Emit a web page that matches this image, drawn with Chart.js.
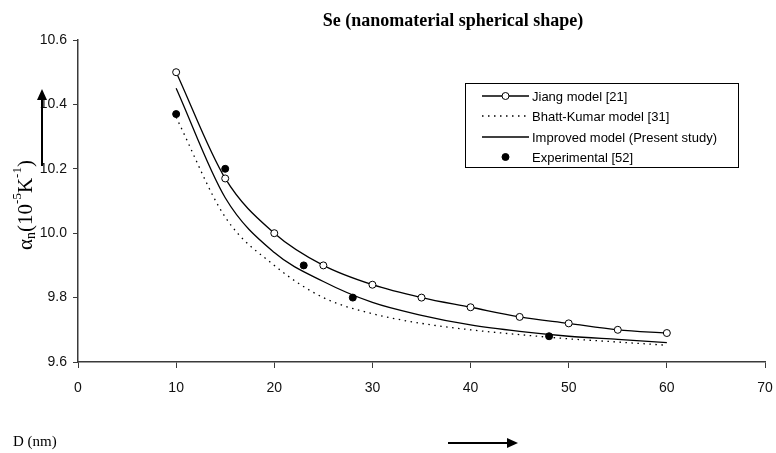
<!DOCTYPE html>
<html>
<head>
<meta charset="utf-8">
<script src="https://cdn.jsdelivr.net/npm/chart.js@4.4.1/dist/chart.umd.min.js"></script>
<style>
  html, body { margin: 0; padding: 0; background: #fff; }
  #wrap { width: 776px; height: 453px; }
</style>
</head>
<body>
<div id="wrap"><canvas id="seChart" width="776" height="453"></canvas></div>
<script>
// --------- Data ---------
const sizes = [10, 15, 20, 25, 30, 35, 40, 45, 50, 55, 60];
const jiang = [10.50, 10.17, 10.00, 9.90, 9.84, 9.80, 9.77, 9.74, 9.72, 9.70, 9.69];
const bhattKumar = [10.36, 10.05, 9.90, 9.80, 9.75, 9.72, 9.70, 9.685, 9.672, 9.662, 9.652];
const improved = [10.45, 10.11, 9.94, 9.85, 9.785, 9.745, 9.715, 9.695, 9.68, 9.67, 9.66];
const expSizes = [10, 15, 23, 28, 48];
const expValues = [10.37, 10.20, 9.90, 9.80, 9.68];
const xTicks = [0, 10, 20, 30, 40, 50, 60, 70];
const yTicks = [9.6, 9.8, 10.0, 10.2, 10.4, 10.6];

const titleText = 'Se (nanomaterial spherical shape)';
const xLabel = 'D (nm)';

(() => {
    const toPoints = (xs, ys) => xs.map((x, i) => ({ x: x, y: ys[i] }));
    const axisColor = '#3a3a3a';
    const tickFont = { family: '"Liberation Sans", Arial, sans-serif', size: 14 };

    // --------- annotations: title, axis labels, arrows, legend ---------
    const arrow = (ctx, x1, y1, x2, y2) => {
        const ang = Math.atan2(y2 - y1, x2 - x1);
        ctx.beginPath();
        ctx.moveTo(x1, y1);
        ctx.lineTo(x2 - 8 * Math.cos(ang), y2 - 8 * Math.sin(ang));
        ctx.lineWidth = 2;
        ctx.strokeStyle = '#000';
        ctx.stroke();
        ctx.save();
        ctx.translate(x2, y2);
        ctx.rotate(ang);
        ctx.beginPath();
        ctx.moveTo(0, 0);
        ctx.lineTo(-11, -5);
        ctx.lineTo(-11, 5);
        ctx.closePath();
        ctx.fillStyle = '#000';
        ctx.fill();
        ctx.restore();
    };

    const extras = {
        id: 'extras',
        afterDraw(chart) {
            const ctx = chart.ctx;
            ctx.save();
            ctx.fillStyle = '#000';

            // title
            ctx.font = 'bold 18px "Liberation Serif", "Times New Roman", serif';
            ctx.textAlign = 'center';
            ctx.textBaseline = 'middle';
            ctx.fillText(titleText, 453, 21);

            // y label (rotated, with sub/superscripts)
            const parts = [
                { t: '\u03b1', s: 21, dy: 0 },
                { t: 'n', s: 14, dy: 5 },
                { t: '(10', s: 21, dy: 0 },
                { t: '-5', s: 13, dy: -8 },
                { t: 'K', s: 21, dy: 0 },
                { t: '-1', s: 13, dy: -8 },
                { t: ')', s: 21, dy: 0 }
            ];
            const fontOf = s => s + 'px "Liberation Serif", "Times New Roman", serif';
            let total = 0;
            parts.forEach(p => { ctx.font = fontOf(p.s); p.w = ctx.measureText(p.t).width; total += p.w; });
            ctx.save();
            ctx.translate(26, 205);
            ctx.rotate(-Math.PI / 2);
            ctx.textAlign = 'left';
            ctx.textBaseline = 'middle';
            let px = -total / 2;
            parts.forEach(p => {
                ctx.font = fontOf(p.s);
                ctx.fillText(p.t, px, p.dy);
                px += p.w;
            });
            ctx.restore();

            // x label
            ctx.font = '15px "Liberation Serif", "Times New Roman", serif';
            ctx.textAlign = 'left';
            ctx.fillText(xLabel, 13, 442);

            // arrows
            arrow(ctx, 42, 166, 42, 89);
            arrow(ctx, 448, 443, 518, 443);

            // legend box
            const lx = 465, ly = 83, lw = 273, lh = 84;
            ctx.lineWidth = 1;
            ctx.strokeStyle = '#000';
            ctx.strokeRect(lx + 0.5, ly + 0.5, lw, lh);
            ctx.font = '13px "Liberation Sans", Arial, sans-serif';
            ctx.textBaseline = 'middle';
            const rows = [96, 116, 137, 157];
            chart.data.datasets.forEach((ds, i) => {
                const y = rows[i];
                if (ds.showLine !== false) {
                    ctx.beginPath();
                    ctx.setLineDash(ds.borderDash || []);
                    ctx.moveTo(482, y);
                    ctx.lineTo(529, y);
                    ctx.lineWidth = ds.borderWidth;
                    ctx.strokeStyle = ds.borderColor;
                    ctx.stroke();
                    ctx.setLineDash([]);
                }
                if (ds.pointRadius > 0) {
                    ctx.beginPath();
                    ctx.arc(505.5, y, ds.pointRadius, 0, Math.PI * 2);
                    ctx.fillStyle = ds.pointBackgroundColor;
                    ctx.fill();
                    ctx.lineWidth = 1;
                    ctx.strokeStyle = '#000';
                    ctx.stroke();
                }
                ctx.fillStyle = '#000';
                ctx.fillText(ds.label, 532, y + 1);
            });
            ctx.restore();
        }
    };

    new Chart(document.getElementById('seChart'), {
        type: 'line',
        data: {
            datasets: [{
                label: 'Jiang model [21]',
                data: toPoints(sizes, jiang),
                borderColor: '#000',
                borderWidth: 1.3,
                pointRadius: 3.5,
                pointBackgroundColor: '#fff',
                pointBorderColor: '#000',
                pointBorderWidth: 1,
                cubicInterpolationMode: 'monotone'
            }, {
                label: 'Bhatt-Kumar model [31]',
                data: toPoints(sizes, bhattKumar),
                borderColor: '#000',
                borderWidth: 1.3,
                borderDash: [1.5, 4.5],
                pointRadius: 0,
                cubicInterpolationMode: 'monotone'
            }, {
                label: 'Improved model (Present study)',
                data: toPoints(sizes, improved),
                borderColor: '#000',
                borderWidth: 1.3,
                pointRadius: 0,
                cubicInterpolationMode: 'monotone'
            }, {
                label: 'Experimental [52]',
                data: toPoints(expSizes, expValues),
                showLine: false,
                borderColor: '#000',
                borderWidth: 1,
                pointRadius: 3.5,
                pointBackgroundColor: '#000',
                pointBorderColor: '#000'
            }]
        },
        options: {
            responsive: false,
            animation: false,
            events: [],
            layout: { padding: { top: 40, right: 11, bottom: 0, left: 0 } },
            plugins: { legend: { display: false }, tooltip: { enabled: false } },
            scales: {
                x: {
                    type: 'linear',
                    min: xTicks[0],
                    max: xTicks[xTicks.length - 1],
                    afterBuildTicks: s => { s.ticks = xTicks.map(v => ({ value: v })); },
                    afterFit: s => { s.height = 91; s.paddingLeft = 0; s.paddingRight = 0; },
                    grid: { drawOnChartArea: false, drawTicks: true, tickLength: 6, color: axisColor },
                    border: { color: axisColor, width: 1.5 },
                    ticks: { color: '#111', font: tickFont, padding: 12, maxRotation: 0 }
                },
                y: {
                    min: yTicks[0],
                    max: yTicks[yTicks.length - 1],
                    afterBuildTicks: s => { s.ticks = yTicks.map(v => ({ value: v })); },
                    afterFit: s => { s.width = 78; s.paddingTop = 0; s.paddingBottom = 0; },
                    grid: { drawOnChartArea: false, drawTicks: true, tickLength: 5, color: axisColor },
                    border: { color: axisColor, width: 1.5 },
                    ticks: { color: '#111', font: tickFont, padding: 6, callback: v => v.toFixed(1) }
                }
            }
        },
        plugins: [extras]
    });
})();
</script>
</body>
</html>
